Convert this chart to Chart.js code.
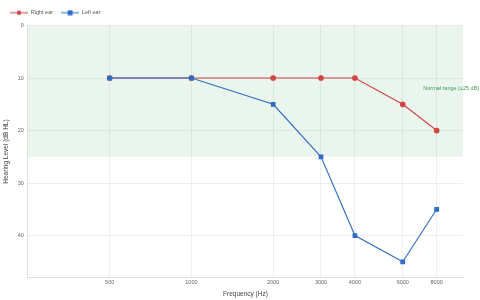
<!DOCTYPE html>
<html><head><meta charset="utf-8">
<script src="https://cdn.jsdelivr.net/npm/chart.js@4"></script>
<style>html,body{margin:0;padding:0;background:#fff}#wrap{width:480px;height:300px}</style>
</head><body><div id="wrap"><canvas id="c" width="480" height="300"></canvas></div>
<script>
const frequencies = [500, 1000, 2000, 3000, 4000, 6000, 8000];
const rightEar = [10, 10, 10, 10, 10, 15, 20];
const leftEar = [10, 10, 15, 25, 40, 45, 35];
const yTicks = [0, 10, 20, 30, 40];
const normalLimit = 25;
const normalLabel = 'Normal range (\u226425 dB)';
const FONT = '"Liberation Sans", Arial, sans-serif';

function legendIcon(color, style) {
  const c = document.createElement('canvas');
  c.width = 18; c.height = 6;
  const g = c.getContext('2d');
  g.strokeStyle = color; g.fillStyle = color; g.lineWidth = 1;
  g.beginPath(); g.moveTo(0, 3); g.lineTo(18, 3); g.stroke();
  if (style === 'circle') { g.beginPath(); g.arc(9, 3, 2.2, 0, Math.PI * 2); g.fill(); }
  else { g.fillRect(6.5, 0.5, 5, 5); }
  return c;
}

const bandPlugin = {
  id: 'band',
  beforeDatasetsDraw(chart) {
    const {ctx, chartArea: a, scales: {x, y}} = chart;
    const y0 = y.getPixelForValue(0), y1 = y.getPixelForValue(normalLimit);
    ctx.save();
    ctx.fillStyle = 'rgba(40,160,80,0.10)';
    ctx.fillRect(a.left, Math.min(y0, y1), a.right - a.left, Math.abs(y1 - y0));
    ctx.fillStyle = '#3f9a5a';
    ctx.font = '5.5px ' + FONT;
    ctx.textAlign = 'center';
    ctx.textBaseline = 'middle';
    ctx.fillText(normalLabel, x.getPixelForValue(9050), y.getPixelForValue(12));
    ctx.restore();
  }
};

new Chart(document.getElementById('c'), {
  type: 'line',
  data: {
    datasets: [
      { label: 'Right ear', data: frequencies.map((f, i) => ({x: f, y: rightEar[i]})),
        borderColor: '#cf4545', backgroundColor: '#cf4545', pointStyle: 'circle',
        pointRadius: 2.3, borderWidth: 1.1, tension: 0, order: 1 },
      { label: 'Left ear', data: frequencies.map((f, i) => ({x: f, y: leftEar[i]})),
        borderColor: '#2f6cc4', backgroundColor: '#2f6cc4', pointStyle: 'rect',
        pointRadius: 2.6, borderWidth: 1.1, tension: 0, order: 0 }
    ]
  },
  options: {
    responsive: false, animation: false, devicePixelRatio: 1,
    layout: { padding: { left: 2, right: 17, top: 2, bottom: 2 } },
    plugins: {
      legend: { position: 'top', align: 'start',
        labels: { usePointStyle: true, pointStyleWidth: 18, boxHeight: 6, padding: 8,
          font: { size: 5.5, family: FONT }, color: '#555',
          generateLabels(chart) {
            return chart.data.datasets.map((d, i) => ({
              text: d.label, fillStyle: d.borderColor, strokeStyle: d.borderColor,
              lineWidth: 0, pointStyle: legendIcon(d.borderColor, d.pointStyle),
              datasetIndex: i, fontColor: '#555'
            }));
          } } },
      tooltip: { enabled: false }
    },
    scales: {
      x: { type: 'logarithmic', min: 250, max: 10000,
        afterBuildTicks(s) { s.ticks = frequencies.map(v => ({value: v})); },
        ticks: { autoSkip: false, maxRotation: 0, callback: v => String(v),
          font: { size: 5.5, family: FONT }, color: '#666', padding: 2 },
        grid: { color: '#e6e6e6', lineWidth: 0.7, drawTicks: false },
        border: { color: '#e0e0e0' },
        title: { display: true, text: 'Frequency (Hz)', color: '#444', padding: { top: 2, bottom: 0 },
          font: { size: 6.5, family: FONT } } },
      y: { reverse: true, min: 0, max: 48,
        afterBuildTicks(s) { s.ticks = yTicks.map(v => ({value: v})); },
        ticks: { font: { size: 5.5, family: FONT }, color: '#666', padding: 4 },
        grid: { color: '#e6e6e6', lineWidth: 0.7, drawTicks: false },
        border: { color: '#e0e0e0' },
        title: { display: true, text: 'Hearing Level (dB HL)', color: '#444', padding: { top: 0, bottom: 4 },
          font: { size: 6.5, family: FONT } } }
    }
  },
  plugins: [bandPlugin]
});
</script></body></html>
